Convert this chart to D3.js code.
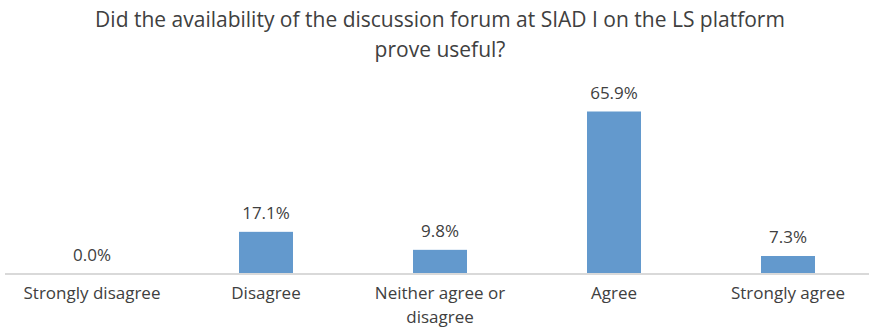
<!DOCTYPE html>
<html><head><meta charset="utf-8">
<script src="https://cdn.jsdelivr.net/npm/d3@7"></script>
<style>body{margin:0;background:#fff}svg{display:block}text{font-family:"Open Sans","Liberation Sans",sans-serif;fill:#404040}</style>
</head><body>
<script>
const categories = ["Strongly disagree","Disagree","Neither agree or disagree","Agree","Strongly agree"];
const values = [0.0, 17.1, 9.8, 65.9, 7.3];
const titleLines = ["Did the availability of the discussion forum at SIAD I on the LS platform","prove useful?"];
const catLines = [["Strongly disagree"],["Disagree"],["Neither agree or","disagree"],["Agree"],["Strongly agree"]];

const W = 869, H = 333;
const svg = d3.select("body").append("svg").attr("width", W).attr("height", H);
const base = 274;
const x = d3.scaleBand().domain(categories).range([5, 875]);
const y = d3.scaleLinear().domain([0, 65.9]).range([base, 111.5]);
const bw = 54;

svg.selectAll("text.title").data(titleLines).enter().append("text")
  .attr("x", 440).attr("y", (d,i)=>27+i*30).attr("text-anchor","middle")
  .style("font-size","21px").text(d=>d);

svg.append("line").attr("x1",5).attr("x2",869).attr("y1",base).attr("y2",base)
  .attr("stroke","#d9d9d9").attr("stroke-width",2);

svg.selectAll("rect.bar").data(values).enter().append("rect")
  .attr("x",(d,i)=>x(categories[i])+x.bandwidth()/2-bw/2)
  .attr("width",bw)
  .attr("y",d=>y(d)).attr("height",d=>base-1-y(d))
  .attr("fill","#6399cd");

svg.selectAll("text.val").data(values).enter().append("text")
  .attr("x",(d,i)=>x(categories[i])+x.bandwidth()/2)
  .attr("y",d=>y(d)-13).attr("text-anchor","middle")
  .style("font-size","17px").text(d=>d.toFixed(1)+"%");

catLines.forEach((lines,i)=>{
  lines.forEach((l,j)=>{
    svg.append("text").attr("x",x(categories[i])+x.bandwidth()/2)
      .attr("y",299+j*24).attr("text-anchor","middle")
      .style("font-size","17px").text(l);
  });
});
</script>
</body></html>
